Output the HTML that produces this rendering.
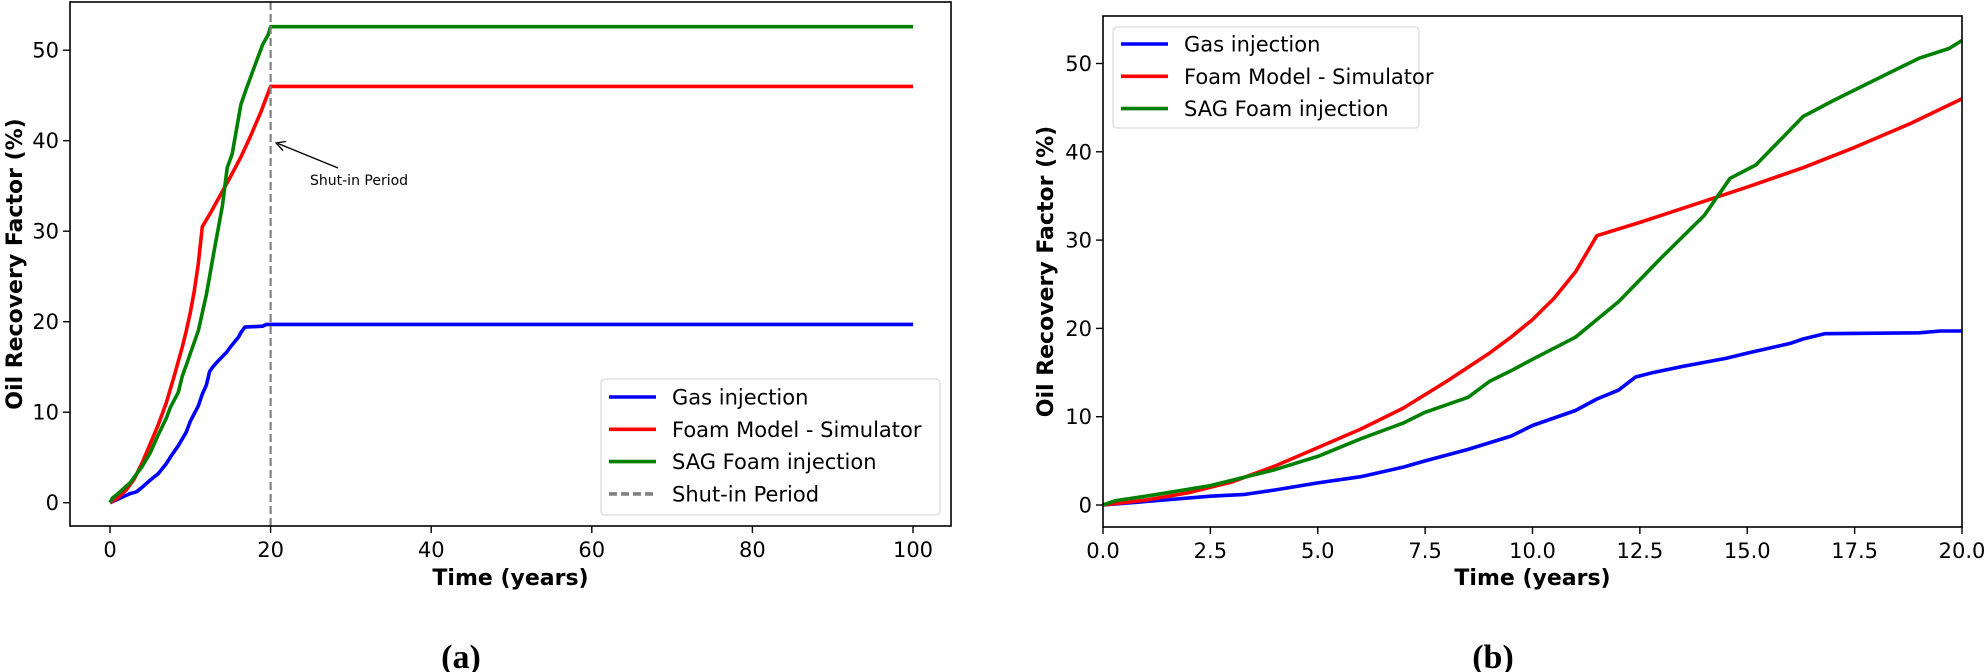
<!DOCTYPE html>
<html><head><meta charset="utf-8"><style>
html,body{margin:0;padding:0;background:#fff;}
svg{display:block;}
text{font-family:"DejaVu Sans","Liberation Sans",sans-serif;fill:#000;}
</style></head><body>
<svg id="s" width="1985" height="672" viewBox="0 0 1985 672" xmlns="http://www.w3.org/2000/svg">
<g id="g"></g>
</svg>
<script>
const NS="http://www.w3.org/2000/svg";
const g=document.getElementById('g');
function el(t,a,txt){const e=document.createElementNS(NS,t);for(const k in a)e.setAttribute(k,a[k]);if(txt!==undefined)e.textContent=txt;g.appendChild(e);return e;}
const red=[[0,0],[1,0.55],[2,1.4],[3,2.6],[4,4.4],[5,6.5],[6,8.6],[7,11],[8,14],[9,17.2],[9.5,19],[10,21],[10.5,23.4],[11,26.4],[11.5,30.5],[12.5,32],[13.5,33.6],[15,36],[16.3,38.2],[17.5,40.5],[18.8,43.2],[20,46]];
const blue=[[0,0],[1,0.4],[2.5,1],[3.3,1.2],[4,1.7],[5,2.5],[6,3.2],[7,4.3],[7.5,5],[8.5,6.3],[9.5,7.8],[10,9],[11,10.7],[11.5,12],[12,13],[12.4,14.5],[12.8,15],[13.5,15.7],[14.5,16.6],[15,17.2],[16,18.3],[16.3,18.8],[16.8,19.4],[19,19.5],[19.5,19.7],[20,19.7]];
const green=[[0,0],[0.3,0.5],[1,1],[2.5,2.2],[4,4],[5,5.5],[6,7.5],[7,9.3],[7.5,10.5],[8.5,12.2],[9,14],[9.5,15.2],[10,16.5],[11,19],[12,23],[13,28],[14,32.8],[14.6,37],[15.2,38.5],[15.8,41.5],[16.3,44],[17,45.8],[18,48.2],[19,50.6],[19.7,51.7],[20,52.6]];
function axes(ax){
  const X=v=>ax.x0+v*ax.sx, Y=v=>ax.y0-v*ax.sy;
  const cols=['#0000ff','#ff0000','#008000'];
  [blue,red,green].forEach((d,i)=>{
    let pts=d.slice(); if(ax.ext) pts.push([100,d[d.length-1][1]]);
    el('polyline',{points:pts.map(p=>X(p[0]).toFixed(1)+','+Y(p[1]).toFixed(1)).join(' '),fill:'none',stroke:cols[i],'stroke-width':3.6,'stroke-linejoin':'round'});
  });
  if(ax.ext){
    el('line',{x1:X(20),y1:ax.T,x2:X(20),y2:ax.B,stroke:'#808080','stroke-width':2.2,'stroke-dasharray':'8,4'});
  }
  el('rect',{x:ax.L,y:ax.T,width:ax.R-ax.L,height:ax.B-ax.T,fill:'none',stroke:'#000','stroke-width':1.6});
  ax.xt.forEach(t=>{const x=X(t.v);el('line',{x1:x,y1:ax.B,x2:x,y2:ax.B+7,stroke:'#000','stroke-width':1.4});el('text',{x:x,y:ax.B+31,'text-anchor':'middle','font-size':21},t.s);});
  [0,10,20,30,40,50].forEach(v=>{const y=Y(v);el('line',{x1:ax.L-7,y1:y,x2:ax.L,y2:y,stroke:'#000','stroke-width':1.4});el('text',{x:ax.L-11,y:y+7.5,'text-anchor':'end','font-size':21},String(v));});
  el('text',{x:(ax.L+ax.R)/2,y:585,'text-anchor':'middle','font-size':22,'font-weight':'bold'},'Time (years)');
  el('text',{x:0,y:0,'text-anchor':'middle','font-size':22,'font-weight':'bold',transform:`translate(${ax.yl},${(ax.T+ax.B)/2}) rotate(-90)`},'Oil Recovery Factor (%)');
}
axes({L:70,R:951,T:2,B:526,x0:110,sx:8.03,y0:502.7,sy:9.05,ext:true,yl:22,
 xt:[0,20,40,60,80,100].map(v=>({v:v,s:String(v)}))});
axes({L:1103,R:1962,T:16,B:527,x0:1103,sx:42.95,y0:505,sy:8.83,ext:false,yl:1053,
 xt:[0,2.5,5,7.5,10,12.5,15,17.5,20].map(v=>({v:v,s:v.toFixed(1)}))});
function legend(x,y,w,h,items,y1){
  el('rect',{x:x,y:y,width:w,height:h,rx:4,fill:'#fff','fill-opacity':0.8,stroke:'#d9d9d9','stroke-width':1.2});
  items.forEach((it,i)=>{const yy=y1+i*32.3;
    el('line',{x1:x+8,y1:yy,x2:x+55,y2:yy,stroke:it[1],'stroke-width':3.6,'stroke-dasharray':it[2]||'none'});
    el('text',{x:x+71,y:yy+7.5,'font-size':21},it[0]);});
}
legend(601,379,339,136,[['Gas injection','#0000ff'],['Foam Model - Simulator','#ff0000'],['SAG Foam injection','#008000'],['Shut-in Period','#808080','8,4']],397);
legend(1113,27,306,101,[['Gas injection','#0000ff'],['Foam Model - Simulator','#ff0000'],['SAG Foam injection','#008000']],44);
el('line',{x1:338,y1:168,x2:278,y2:143.5,stroke:'#000','stroke-width':1.3});
el('polyline',{points:'286,141.5 276,143 283,150.5',fill:'none',stroke:'#000','stroke-width':1.3});
el('text',{x:310,y:185,'font-size':14},'Shut-in Period');
el('text',{x:461,y:668,'text-anchor':'middle','font-size':34,'font-weight':'bold',style:'font-family:"Liberation Serif",serif'},'(a)');
el('text',{x:1493,y:668,'text-anchor':'middle','font-size':34,'font-weight':'bold',style:'font-family:"Liberation Serif",serif'},'(b)');
</script>
</body></html>
